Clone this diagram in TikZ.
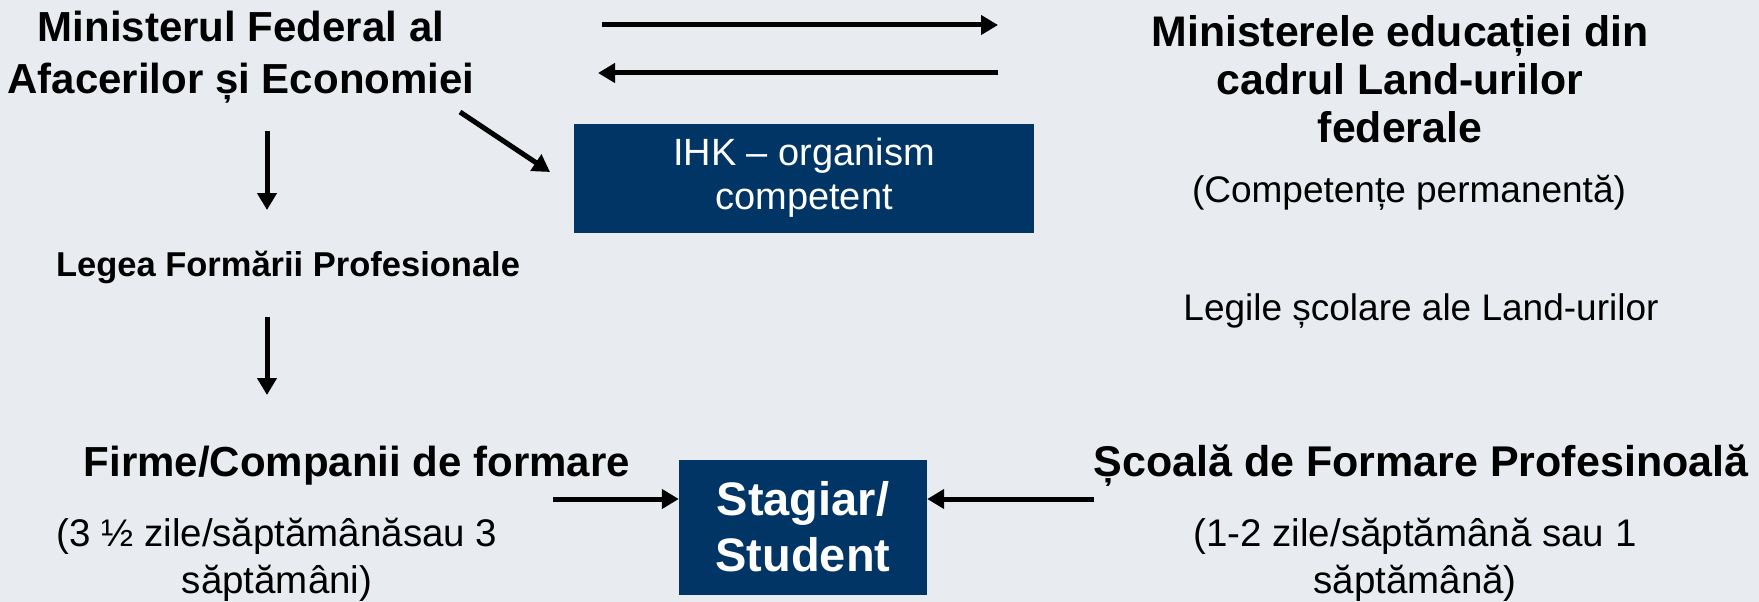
\documentclass[tikz,border=0pt]{standalone}
\usepackage{fontspec}
\setmainfont{Liberation Sans}
\usetikzlibrary{arrows.meta}
\definecolor{bgc}{RGB}{232,236,240}
\definecolor{navy}{RGB}{0,53,102}
\begin{document}
\begin{tikzpicture}[x=1pt,y=-1pt,
  arr/.style={line width=5pt,-{Triangle[length=17pt,width=19pt]}},
  title/.style={font=\bfseries\fontsize{42}{52}\selectfont,align=center,inner sep=0pt},
  plain/.style={font=\fontsize{37}{47}\selectfont,align=center,inner sep=0pt},
  navybox/.style={fill=navy,text=white,align=center,inner sep=0pt}]
\fill[bgc] (0,0) rectangle (1759,602);
\useasboundingbox (0,0) rectangle (1759,602);

\node[title] (mfae) at (241,57) {Ministerul Federal al\\Afacerilor și Economiei};
\node[title,font=\bfseries\fontsize{42.8}{48}\selectfont] (me) at (1400,79) {Ministerele educației din\\cadrul Land-urilor\\federale};
\node[plain] (comp) at (1409,193) {(Competențe permanentă)};
\node[plain] (legile) at (1421,311) {Legile școlare ale Land-urilor};
\node[title,font=\bfseries\fontsize{34.5}{40}\selectfont] (legea) at (288,267) {Legea Formării Profesionale};
\node[navybox,minimum width=460pt,minimum height=109pt,font=\fontsize{38}{44}\selectfont] (ihk) at (804,178) {IHK – organism\\competent};
\node[title] (firme) at (357,466) {Firme/Companii de formare};
\node[plain,font=\fontsize{38.5}{47}\selectfont] (firmesub) at (277,560) {(3 ½ zile/săptămânăsau 3\\săptămâni)};
\node[navybox,minimum width=248pt,minimum height=135pt,font=\bfseries\fontsize{47}{56}\selectfont] (stag) at (803,527) {Stagiar/\\Student};
\node[title,font=\bfseries\fontsize{43}{52}\selectfont] (scoala) at (1421,466) {Școală de Formare Profesinoală};
\node[plain,font=\fontsize{38.5}{47}\selectfont] (scoalasub) at (1415,560) {(1-2 zile/săptămână sau 1\\săptămână)};

\coordinate (a1s) at (602,25);  \coordinate (a1e) at (998,25);
\coordinate (a2s) at (998,73);  \coordinate (a2e) at (598,73);
\coordinate (d1s) at (460,112); \coordinate (d1e) at (550,172);
\coordinate (v1s) at (267,131); \coordinate (v1e) at (267,210);
\coordinate (v2s) at (267,317); \coordinate (v2e) at (267,395);
\coordinate (f1s) at (553,499);
\coordinate (s1s) at (1094,499);

\draw[arr] (a1s) -- (a1e);
\draw[arr] (a2s) -- (a2e);
\draw[arr] (d1s) -- (d1e);
\draw[arr] (v1s) -- (v1e);
\draw[arr] (v2s) -- (v2e);
\draw[arr] (f1s) -- (f1s -| stag.west);
\draw[arr] (s1s) -- (s1s -| stag.east);
\end{tikzpicture}
\end{document}
